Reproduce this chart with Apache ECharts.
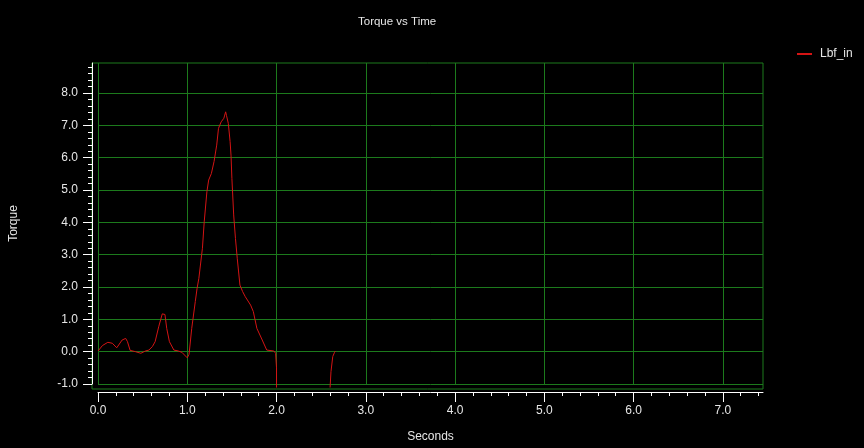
<!DOCTYPE html>
<html>
<head>
<meta charset="utf-8">
<script src="https://cdn.jsdelivr.net/npm/echarts@6/dist/echarts.min.js"></script>
<style>html,body{margin:0;padding:0;background:#000;}#c{width:864px;height:448px;}</style>
</head>
<body>
<div id="c"></div>
<script>
const seconds = [0, 0.05, 0.11, 0.16, 0.21, 0.23, 0.27, 0.31, 0.33, 0.36, 0.42, 0.48, 0.53, 0.57, 0.61, 0.64, 0.68, 0.72, 0.75, 0.77, 0.80, 0.85, 0.90, 0.94, 1.00, 1.02, 1.05, 1.09, 1.11, 1.13, 1.17, 1.19, 1.22, 1.24, 1.27, 1.30, 1.33, 1.35, 1.38, 1.41, 1.43, 1.44, 1.46, 1.48, 1.49, 1.50, 1.52, 1.54, 1.56, 1.59, 1.62, 1.65, 1.71, 1.74, 1.78, 1.84, 1.89, 1.97, 1.99, 2.00, 2.00, 2.30, 2.60, 2.61, 2.63, 2.65, 2.66];
const torque = [0.02, 0.19, 0.29, 0.26, 0.12, 0.13, 0.36, 0.41, 0.31, 0.04, 0.0, -0.05, 0.02, 0.05, 0.16, 0.31, 0.77, 1.17, 1.15, 0.72, 0.31, 0.05, 0.02, -0.02, -0.19, -0.08, 0.72, 1.55, 1.96, 2.27, 3.2, 4.02, 4.95, 5.31, 5.51, 5.88, 6.39, 6.91, 7.11, 7.22, 7.42, 7.3, 7.06, 6.5, 6.08, 5.36, 4.23, 3.5, 2.89, 2.06, 1.86, 1.70, 1.44, 1.24, 0.72, 0.36, 0.05, 0.02, -0.05, -0.5, -1.11, null, -1.11, -0.62, -0.15, -0.02, 0.02];
const xTicks = [0, 1, 2, 3, 4, 5, 6, 7];
const yTicks = [-1, 0, 1, 2, 3, 4, 5, 6, 7, 8];
const seriesName = 'Lbf_in';

const data = seconds.map((s, i) => [s, torque[i]]);
const green = '#1c7a1c';
const fg = '#e6e6e6';
const font = 'Liberation Sans, Arial, sans-serif';

const chart = echarts.init(document.getElementById('c'), null, {renderer: 'canvas'});
chart.setOption({
  backgroundColor: '#000',
  animation: false,
  title: {
    text: 'Torque vs Time', left: 358, top: 16, padding: 0,
    textStyle: {color: fg, fontSize: 11.5, fontWeight: 'normal', fontFamily: font}
  },
  legend: {
    left: 797, top: 48, padding: 0, itemWidth: 15, itemHeight: 2,
    icon: 'rect',
    data: [{name: seriesName, itemStyle: {color: '#d41414'}}],
    textStyle: {color: fg, fontSize: 12, fontFamily: font, padding: [0, 0, 0, 3]}
  },
  grid: [
    {left: 92, top: 63, width: 671, height: 326, show: true, borderColor: green, borderWidth: 1, backgroundColor: '#000', containLabel: false},
    {left: 96, top: 63, width: 667, height: 321, show: false, containLabel: false}
  ],
  xAxis: [
    {gridIndex: 0, type: 'value', min: 0, max: 1, show: false},
    {
      gridIndex: 1, type: 'value', min: 0, max: 7.45, interval: 1, offset: 8,
      name: 'Seconds', nameLocation: 'middle', nameGap: 39,
      nameTextStyle: {color: fg, fontSize: 12, fontFamily: font},
      axisLine: {show: true, onZero: false, lineStyle: {color: '#ffffff', width: 1}},
      axisTick: {show: true, length: 10, lineStyle: {color: '#ffffff'}, customValues: xTicks},
      minorTick: {show: true, splitNumber: 5, length: 4, lineStyle: {color: '#ffffff'}},
      axisLabel: {color: fg, fontSize: 12, fontFamily: font, margin: 13, customValues: xTicks,
        formatter: v => Number.isInteger(v) ? v.toFixed(1) : ''},
      splitLine: {show: true, lineStyle: {color: green, width: 1}}
    }
  ],
  yAxis: [
    {gridIndex: 0, type: 'value', min: 0, max: 1, show: false},
    {
      gridIndex: 1, type: 'value', min: -1, max: 8.93, interval: 1, offset: 6,
      name: 'Torque', nameLocation: 'middle', nameGap: 72,
      nameTextStyle: {color: fg, fontSize: 12, fontFamily: font},
      axisLine: {show: true, onZero: false, lineStyle: {color: '#ffffff', width: 1}},
      axisTick: {show: true, length: 9, lineStyle: {color: '#ffffff'}, customValues: yTicks},
      minorTick: {show: true, splitNumber: 5, length: 4, lineStyle: {color: '#ffffff'}},
      axisLabel: {color: fg, fontSize: 12, fontFamily: font, margin: 14, customValues: yTicks,
        formatter: v => Number.isInteger(v) ? v.toFixed(1) : ''},
      splitLine: {show: true, lineStyle: {color: green, width: 1}}
    }
  ],
  series: [{
    name: seriesName, type: 'line', xAxisIndex: 1, yAxisIndex: 1,
    data: data, showSymbol: false, symbol: 'none', clip: false, connectNulls: false,
    lineStyle: {color: '#d41414', width: 1}, itemStyle: {color: '#d41414'}
  }]
});
</script>
</body>
</html>
